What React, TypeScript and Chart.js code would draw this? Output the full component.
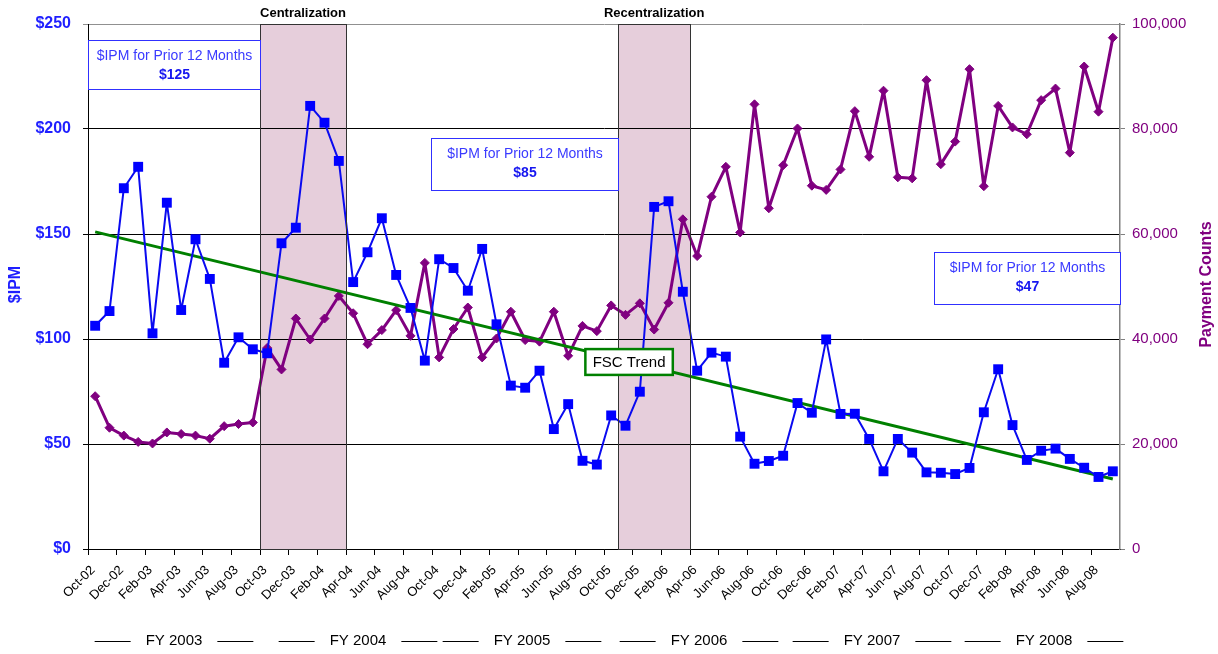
import { useEffect, useRef } from 'react';
import { Chart, registerables } from 'chart.js';

Chart.register(...registerables);

const FONT = '"Liberation Sans", Arial, sans-serif';

const months = [
  'Oct-02', 'Nov-02', 'Dec-02', 'Jan-03', 'Feb-03', 'Mar-03', 'Apr-03', 'May-03', 'Jun-03', 'Jul-03', 'Aug-03', 'Sep-03',
  'Oct-03', 'Nov-03', 'Dec-03', 'Jan-04', 'Feb-04', 'Mar-04', 'Apr-04', 'May-04', 'Jun-04', 'Jul-04', 'Aug-04', 'Sep-04',
  'Oct-04', 'Nov-04', 'Dec-04', 'Jan-05', 'Feb-05', 'Mar-05', 'Apr-05', 'May-05', 'Jun-05', 'Jul-05', 'Aug-05', 'Sep-05',
  'Oct-05', 'Nov-05', 'Dec-05', 'Jan-06', 'Feb-06', 'Mar-06', 'Apr-06', 'May-06', 'Jun-06', 'Jul-06', 'Aug-06', 'Sep-06',
  'Oct-06', 'Nov-06', 'Dec-06', 'Jan-07', 'Feb-07', 'Mar-07', 'Apr-07', 'May-07', 'Jun-07', 'Jul-07', 'Aug-07', 'Sep-07',
  'Oct-07', 'Nov-07', 'Dec-07', 'Jan-08', 'Feb-08', 'Mar-08', 'Apr-08', 'May-08', 'Jun-08', 'Jul-08', 'Aug-08', 'Sep-08',
];

const ipm = [
  106.3, 113.3, 171.8, 182, 102.7, 164.9, 113.8, 147.5, 128.6, 88.7, 100.8, 95.1,
  93.2, 145.6, 153, 211, 203, 184.8, 127.1, 141.3, 157.5, 130.5, 114.8, 89.7,
  138, 133.8, 123, 142.9, 107, 77.8, 76.8, 84.9, 57.1, 69, 42, 40.2,
  63.6, 58.7, 74.9, 162.9, 165.6, 122.5, 84.9, 93.5, 91.6, 53.5, 40.6, 41.9,
  44.4, 69.5, 64.9, 99.8, 64.3, 64.4, 52.4, 37, 52.4, 45.9, 36.5, 36.3,
  35.7, 38.6, 65.1, 85.6, 59, 42.4, 46.8, 47.8, 42.9, 38.7, 34.3, 37,
];

const paymentCounts = [
  29100, 23100, 21600, 20400, 20100, 22200, 21900, 21600, 21000, 23400, 23800, 24100,
  38300, 34200, 43900, 39900, 43900, 48200, 44900, 39000, 41700, 45500, 40600, 54500,
  36500, 41900, 46000, 36500, 40100, 45200, 39800, 39500, 45200, 36800, 42500, 41500,
  46400, 44600, 46800, 41800, 46900, 62800, 55800, 67100, 72800, 60300, 84700, 64900,
  73100, 80100, 69200, 68400, 72300, 83400, 74700, 87300, 70800, 70600, 89300, 73300,
  77600, 91400, 69100, 84400, 80300, 79000, 85500, 87700, 75500, 91900, 83300, 97400,
];

const trendStartEnd = [151, 33.3];

const shadeRegions = [
  { name: 'Centralization', from: 'Oct-03', to: 'Mar-04' },
  { name: 'Recentralization', from: 'Nov-05', to: 'Mar-06' },
];

const calloutTitles = ['$IPM for Prior 12 Months', '$IPM for Prior 12 Months', '$IPM for Prior 12 Months'];
const calloutValues = ['$125', '$85', '$47'];
const trendLabel = 'FSC Trend';
const fiscalYears = ['FY 2003', 'FY 2004', 'FY 2005', 'FY 2006', 'FY 2007', 'FY 2008'];

// layout of annotation boxes (category-edge units on x, $IPM units on y)
const calloutLayout = [
  { c0: 0, c1: 12, v0: 242.4, v1: 219 },
  { c0: 23.9, c1: 37, v0: 195.7, v1: 171 },
  { c0: 59, c1: 72, v0: 141.4, v1: 116.7 },
];
const trendBoxLayout = { c0: 34.7, c1: 40.8, v0: 95.2, v1: 82.9 };
const fyOffsets = [0, 12, 4, 9, 10, 10];

export default function App() {
  const ref = useRef<HTMLCanvasElement>(null);

  useEffect(() => {
    document.body.style.margin = '0';
    const canvas = ref.current!;

    const edge = (chart: any, pos: number) => {
      const xs = chart.scales.x;
      const w = xs.getPixelForValue(1) - xs.getPixelForValue(0);
      return xs.getPixelForValue(0) - w / 2 + pos * w;
    };

    const overlay = {
      id: 'overlay',
      beforeDraw(chart: any) {
        const ctx = chart.ctx;
        const { top, bottom } = chart.chartArea;
        ctx.save();
        shadeRegions.forEach((r) => {
          const x0 = edge(chart, months.indexOf(r.from));
          const x1 = edge(chart, months.indexOf(r.to) + 1);
          ctx.fillStyle = '#E6CEDB';
          ctx.fillRect(x0, top, x1 - x0, bottom - top);
        });
        ctx.restore();
      },
      afterDatasetsDraw(chart: any) {
        const ctx = chart.ctx;
        const { top, bottom } = chart.chartArea;
        const ys = chart.scales.y;
        ctx.save();
        // region borders + labels
        shadeRegions.forEach((r) => {
          const x0 = edge(chart, months.indexOf(r.from));
          const x1 = edge(chart, months.indexOf(r.to) + 1);
          ctx.strokeStyle = '#333333';
          ctx.lineWidth = 1;
          ctx.strokeRect(Math.round(x0) + 0.5, top + 0.5, Math.round(x1 - x0), bottom - top);
          ctx.fillStyle = '#000';
          ctx.font = `bold 13px ${FONT}`;
          ctx.textAlign = 'center';
          ctx.textBaseline = 'middle';
          ctx.fillText(r.name, (x0 + x1) / 2, 13);
        });
        // callouts
        calloutLayout.forEach((b, i) => {
          const x0 = Math.round(edge(chart, b.c0)) + 0.5;
          const x1 = Math.round(edge(chart, b.c1)) + 0.5;
          const y0 = Math.round(ys.getPixelForValue(b.v0)) + 0.5;
          const y1 = Math.round(ys.getPixelForValue(b.v1)) + 0.5;
          ctx.fillStyle = '#fff';
          ctx.fillRect(x0, y0, x1 - x0, y1 - y0);
          ctx.strokeStyle = '#3030FF';
          ctx.lineWidth = 1;
          ctx.strokeRect(x0, y0, x1 - x0, y1 - y0);
          const cx = (x0 + x1) / 2;
          ctx.textAlign = 'center';
          ctx.textBaseline = 'middle';
          ctx.fillStyle = '#3A3AFF';
          ctx.font = `14px ${FONT}`;
          ctx.fillText(calloutTitles[i], cx, y0 + 16);
          ctx.fillStyle = '#1515F0';
          ctx.font = `bold 14px ${FONT}`;
          ctx.fillText(calloutValues[i], cx, y0 + 35);
        });
        // trend label
        {
          const b = trendBoxLayout;
          const x0 = edge(chart, b.c0);
          const x1 = edge(chart, b.c1);
          const y0 = ys.getPixelForValue(b.v0);
          const y1 = ys.getPixelForValue(b.v1);
          ctx.fillStyle = '#fff';
          ctx.fillRect(x0, y0, x1 - x0, y1 - y0);
          ctx.strokeStyle = '#008000';
          ctx.lineWidth = 2.5;
          ctx.strokeRect(x0, y0, x1 - x0, y1 - y0);
          ctx.fillStyle = '#000';
          ctx.font = `15px ${FONT}`;
          ctx.textAlign = 'center';
          ctx.textBaseline = 'middle';
          ctx.fillText(trendLabel, (x0 + x1) / 2, (y0 + y1) / 2 + 1);
        }
        ctx.restore();
      },
      afterDraw(chart: any) {
        const ctx = chart.ctx;
        const { top, bottom } = chart.chartArea;
        const midY = (top + bottom) / 2 - 2;
        ctx.save();
        // month labels (every other month, rotated 45°)
        ctx.font = `13px ${FONT}`;
        ctx.fillStyle = '#000';
        ctx.textAlign = 'right';
        ctx.textBaseline = 'middle';
        months.forEach((m, i) => {
          if (i % 2 !== 0) return;
          ctx.setTransform(1, 0, 0, 1, 0, 0);
          ctx.translate(edge(chart, i) + 5, bottom + 19);
          ctx.rotate(-Math.PI / 4);
          ctx.fillText(m, 0, 0);
        });
        ctx.setTransform(1, 0, 0, 1, 0, 0);
        // axis titles
        ctx.textAlign = 'center';
        ctx.textBaseline = 'middle';
        ctx.font = `bold 16px ${FONT}`;
        ctx.fillStyle = '#1F1FFF';
        ctx.translate(16, midY);
        ctx.rotate(-Math.PI / 2);
        ctx.fillText('$IPM', 0, 0);
        ctx.setTransform(1, 0, 0, 1, 0, 0);
        ctx.fillStyle = '#800080';
        ctx.translate(1207, midY);
        ctx.rotate(-Math.PI / 2);
        ctx.fillText('Payment Counts', 0, 0);
        ctx.setTransform(1, 0, 0, 1, 0, 0);
        // fiscal years
        ctx.font = `15px ${FONT}`;
        ctx.fillStyle = '#000';
        ctx.strokeStyle = '#000';
        ctx.lineWidth = 1;
        const fy = chart.height - 13;
        fiscalYears.forEach((label, k) => {
          const cx = edge(chart, 12 * k + 6) + fyOffsets[k];
          const w = ctx.measureText(label).width;
          ctx.fillText(label, cx, fy);
          const ly = Math.round(fy) + 0.5;
          ctx.beginPath();
          ctx.moveTo(cx - w / 2 - 51, ly);
          ctx.lineTo(cx - w / 2 - 15, ly);
          ctx.moveTo(cx + w / 2 + 15, ly);
          ctx.lineTo(cx + w / 2 + 51, ly);
          ctx.stroke();
        });
        ctx.restore();
      },
    };

    const chart = new Chart(canvas, {
      type: 'line',
      data: {
        labels: months,
        datasets: [
          {
            label: '$IPM',
            data: ipm,
            yAxisID: 'y',
            borderColor: '#0A0AF0',
            borderWidth: 2,
            borderJoinStyle: 'round',
            pointStyle: 'rect',
            pointRadius: 7,
            pointBackgroundColor: '#0000FF',
            pointBorderColor: '#0000FF',
            pointBorderWidth: 0,
            tension: 0,
          },
          {
            label: 'FSC Trend',
            data: [
              { x: months[0], y: trendStartEnd[0] },
              { x: months[months.length - 1], y: trendStartEnd[1] },
            ] as any,
            yAxisID: 'y',
            borderColor: '#008000',
            borderWidth: 3,
            pointRadius: 0,
          },
          {
            label: 'Payment Counts',
            data: paymentCounts,
            yAxisID: 'y1',
            borderColor: '#800080',
            borderWidth: 3,
            borderJoinStyle: 'round',
            pointStyle: 'rectRot',
            pointRadius: 4.5,
            pointBackgroundColor: '#800080',
            pointBorderColor: '#800080',
            pointBorderWidth: 1,
            tension: 0,
          },
        ],
      },
      options: {
        animation: false,
        responsive: true,
        maintainAspectRatio: false,
        layout: { padding: { top: 24, left: 0, right: 0, bottom: 0 } },
        plugins: { legend: { display: false }, tooltip: { enabled: false } },
        scales: {
          x: {
            type: 'category',
            offset: true,
            afterFit: (s: any) => { s.height = 105; },
            grid: {
              offset: true,
              drawOnChartArea: false,
              drawTicks: true,
              tickLength: 6,
              lineWidth: 1,
              color: (c: any) => (c.index !== undefined && c.index % 2 === 0 ? '#000' : 'rgba(0,0,0,0)'),
            },
            border: { display: true, color: '#000', width: 1 },
            ticks: {
              autoSkip: false,
              maxRotation: 45,
              minRotation: 45,
              padding: 0,
              color: 'rgba(0,0,0,0)',
              font: { family: FONT, size: 12 },
              callback: () => '',
            },
          },
          y: {
            position: 'left',
            min: 0,
            max: 250,
            afterFit: (s: any) => { s.width = 88; },
            grid: {
              drawOnChartArea: true,
              tickLength: 5,
              lineWidth: 1,
              color: (c: any) => (c.tick && c.tick.value === 250 ? '#909090' : '#000'),
            },
            border: { display: true, color: '#000', width: 1 },
            ticks: {
              stepSize: 50,
              padding: 12,
              color: '#1F1FFF',
              font: { family: FONT, size: 16, weight: 'bold' },
              callback: (v: any) => '$' + v,
            },
          },
          y1: {
            position: 'right',
            min: 0,
            max: 100000,
            afterFit: (s: any) => { s.width = 98; },
            grid: { drawOnChartArea: false, tickLength: 5, color: '#808080' },
            border: { display: true, color: '#808080', width: 1.5 },
            ticks: {
              stepSize: 20000,
              padding: 7,
              color: '#800080',
              font: { family: FONT, size: 15 },
              callback: (v: any) => Number(v).toLocaleString('en-US'),
            },
          },
        },
      },
      plugins: [overlay],
    } as any);

    return () => chart.destroy();
  }, []);

  return (
    <div style={{ width: 1218, height: 654, position: 'relative' }}>
      <canvas ref={ref} />
    </div>
  );
}
